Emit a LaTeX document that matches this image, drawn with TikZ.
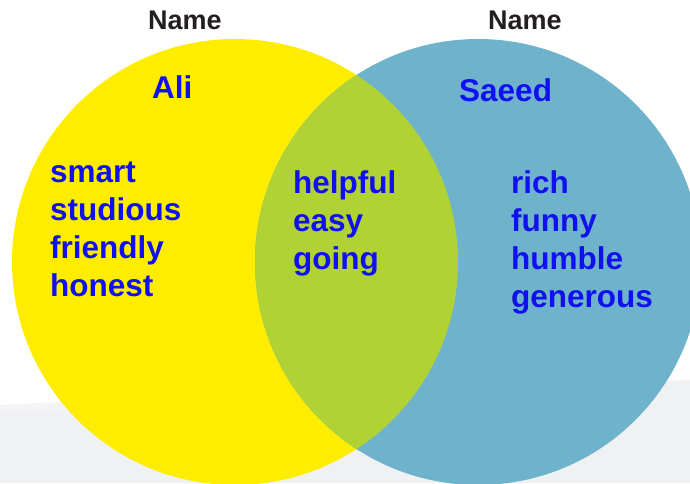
\documentclass[tikz,border=0pt]{standalone}
\usepackage{fontspec}
\setmainfont{Liberation Sans}
\definecolor{vennyellow}{RGB}{255,237,0}
\definecolor{vennblue}{RGB}{111,178,203}
\definecolor{venngreen}{RGB}{176,210,53}
\definecolor{wordblue}{RGB}{16,16,240}
\definecolor{namegray}{RGB}{35,31,32}
\definecolor{floorgray}{RGB}{240,241,243}

\begin{document}
\begin{tikzpicture}[x=1pt,y=-1pt,
    every node/.style={inner sep=0pt,anchor=base west},
    word/.style={text=wordblue,font=\fontsize{31.5}{38}\selectfont\bfseries},
    title/.style={text=namegray,font=\fontsize{27}{32}\selectfont\bfseries}]
  \def \r {223pt}
  \def \ly {262}

  \useasboundingbox (0,0) rectangle (690,483);

  % floor behind the circles
  \shade[top color=white,bottom color=floorgray] (0,405)--(690,370)--(690,381)--(0,416)--cycle;
  \fill[floorgray] (0,415)--(690,380)--(690,483)--(0,483)--cycle;

  \fill[vennyellow] (235,\ly) circle (\r);
  \fill[vennblue] (478,\ly) circle (\r);
  \begin{scope}
    \clip (235,\ly) circle (\r);
    \fill[venngreen] (478,\ly) circle (\r);
  \end{scope}

  \node[title] (name-ali) at (148,29) {Name};
  \node[title] (name-saeed) at (488,29) {Name};

  \node[word] (ali) at (152,98) {Ali};
  \node[word] (saeed) at (459,101) {Saeed};

  \foreach \w [count=\i] in {smart,studious,friendly,honest}{
    \node[word] (ali-\i) at (50,144+38*\i) {\w};
  }
  \foreach \w [count=\i] in {helpful,easy,going}{
    \node[word] (both-\i) at (293,155+38*\i) {\w};
  }
  \foreach \w [count=\i] in {rich,funny,humble,generous}{
    \node[word] (saeed-\i) at (511,155+38*\i) {\w};
  }
\end{tikzpicture}
\end{document}
